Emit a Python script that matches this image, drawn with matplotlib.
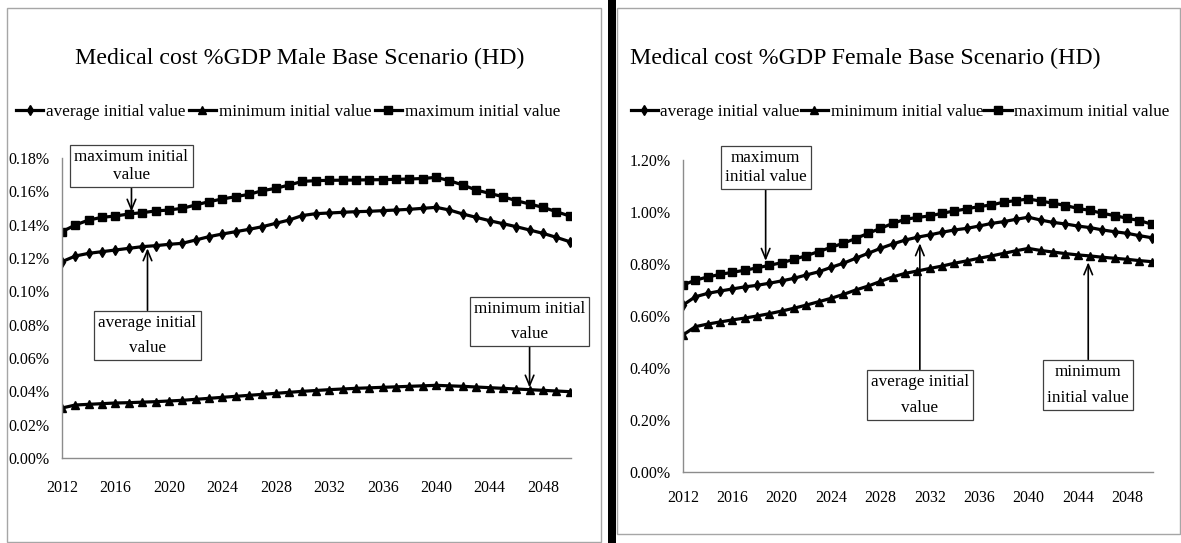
import numpy as np
import matplotlib.pyplot as plt
from matplotlib.patches import Rectangle

plt.rcParams['font.family'] = ['Liberation Serif', 'DejaVu Serif']

years = np.arange(2012, 2051)
year_ticks = np.arange(2012, 2049, 4)

# --- Male (values in % of GDP) ---
male_avg = [0.1178, 0.1212, 0.1228, 0.1238, 0.1248, 0.1258, 0.1268, 0.1274, 0.1282, 0.1288,
            0.1308, 0.1328, 0.1344, 0.1358, 0.1372, 0.1388, 0.1408, 0.1428, 0.1455, 0.1466,
            0.1470, 0.1474, 0.1478, 0.1480, 0.1484, 0.1488, 0.1492, 0.1498, 0.1504, 0.1488,
            0.1464, 0.1444, 0.1424, 0.1406, 0.1388, 0.1368, 0.1348, 0.1324, 0.1298]
male_min = [0.0300, 0.0318, 0.0322, 0.0326, 0.0330, 0.0332, 0.0335, 0.0338, 0.0342, 0.0346,
            0.0352, 0.0358, 0.0364, 0.0370, 0.0376, 0.0382, 0.0388, 0.0394, 0.0400, 0.0405,
            0.0410, 0.0414, 0.0418, 0.0421, 0.0424, 0.0427, 0.0430, 0.0433, 0.0436, 0.0433,
            0.0430, 0.0426, 0.0422, 0.0418, 0.0414, 0.0410, 0.0406, 0.0402, 0.0398]
male_max = [0.1358, 0.1398, 0.1428, 0.1444, 0.1452, 0.1464, 0.1472, 0.1482, 0.1488, 0.1498,
            0.1518, 0.1538, 0.1554, 0.1568, 0.1582, 0.1604, 0.1618, 0.1638, 0.1660, 0.1664,
            0.1666, 0.1667, 0.1668, 0.1669, 0.1670, 0.1672, 0.1674, 0.1677, 0.1684, 0.1664,
            0.1638, 0.1608, 0.1588, 0.1568, 0.1544, 0.1524, 0.1504, 0.1478, 0.1452]

# --- Female (values in % of GDP) ---
female_avg = [0.642, 0.674, 0.687, 0.696, 0.704, 0.712, 0.718, 0.726, 0.735, 0.745,
              0.758, 0.770, 0.787, 0.803, 0.822, 0.841, 0.860, 0.877, 0.892, 0.903,
              0.912, 0.922, 0.931, 0.937, 0.946, 0.956, 0.963, 0.972, 0.980, 0.969,
              0.960, 0.954, 0.946, 0.940, 0.931, 0.924, 0.918, 0.909, 0.901]
female_min = [0.527, 0.559, 0.569, 0.577, 0.585, 0.592, 0.600, 0.609, 0.619, 0.630,
              0.642, 0.655, 0.668, 0.683, 0.700, 0.715, 0.733, 0.750, 0.764, 0.773,
              0.783, 0.792, 0.803, 0.812, 0.822, 0.831, 0.841, 0.851, 0.860, 0.852,
              0.846, 0.840, 0.835, 0.831, 0.826, 0.822, 0.818, 0.813, 0.809]
female_max = [0.719, 0.738, 0.750, 0.760, 0.768, 0.776, 0.785, 0.795, 0.805, 0.818,
              0.832, 0.848, 0.864, 0.880, 0.898, 0.918, 0.937, 0.956, 0.972, 0.979,
              0.985, 0.995, 1.004, 1.012, 1.021, 1.027, 1.038, 1.044, 1.050, 1.042,
              1.034, 1.025, 1.014, 1.006, 0.995, 0.986, 0.976, 0.967, 0.953]

labels = ['average initial value', 'minimum initial value', 'maximum initial value']

W, H = 1181, 543
fig = plt.figure(figsize=(W / 100, H / 100), dpi=100)


def fx(px):
    return px / W


def fy(py):
    return 1 - py / H


# panel frames and divider bar
fig.add_artist(Rectangle((fx(7), fy(542)), fx(601) - fx(7), fy(8) - fy(542),
                         transform=fig.transFigure, fill=False, ec='#a6a6a6', lw=1))
fig.add_artist(Rectangle((fx(617), fy(534)), fx(1180) - fx(617), fy(8) - fy(534),
                         transform=fig.transFigure, fill=False, ec='#a6a6a6', lw=1))
fig.add_artist(Rectangle((fx(608), 0), fx(616) - fx(608), 1,
                         transform=fig.transFigure, fc='black', ec='none'))


def make_panel(rect, avg, mn, mx, ymax, ystep, title, title_x, legend_x, colspace, xpad):
    ax = fig.add_axes(rect)
    ax.plot(years, avg, color='black', lw=2.3, marker='d', ms=5.5, label=labels[0])
    ax.plot(years, mn, color='black', lw=2.3, marker='^', ms=6, label=labels[1])
    ax.plot(years, mx, color='black', lw=2.3, marker='s', ms=6, label=labels[2])
    ax.set_xlim(2012, 2050.1)
    ax.set_ylim(0, ymax)
    ax.set_xticks(year_ticks)
    ax.set_yticks(np.arange(0, ymax + ystep / 2, ystep))
    ax.yaxis.set_major_formatter(plt.FuncFormatter(lambda v, p: f'{v:.2f}%'))
    for s in ['top', 'right']:
        ax.spines[s].set_visible(False)
    for s in ['left', 'bottom']:
        ax.spines[s].set_color('#8c8c8c')
        ax.spines[s].set_linewidth(1)
    ax.tick_params(axis='y', length=0, pad=9, labelsize=11.5)
    ax.tick_params(axis='x', length=0, pad=xpad, labelsize=11.5)
    ax.patch.set_alpha(0)
    fig.text(fx(title_x), fy(58), title, ha='center', va='center', fontsize=17.2)
    ax.legend(loc='center', bbox_to_anchor=(fx(legend_x), fy(112)), bbox_transform=fig.transFigure,
              ncol=3, frameon=False, fontsize=12.3, handlelength=1.6, handletextpad=0.15,
              columnspacing=colspace, borderaxespad=0)
    return ax


def note(ax, text, year, series, box_y, tip_off, spacing):
    tip_y = np.interp(year, years, series) + tip_off
    ax.annotate(text, xy=(year, tip_y), xytext=(year, box_y), textcoords='data',
                ha='center', va='center', fontsize=12.3, linespacing=spacing,
                bbox=dict(boxstyle='square,pad=0.25', fc='white', ec='#404040', lw=0.9),
                arrowprops=dict(arrowstyle='->,head_length=0.6,head_width=0.25',
                                color='black', lw=1.2, shrinkA=0, shrinkB=0))


# left: male
axL = make_panel([fx(62), fy(458), fx(571) - fx(62), fy(158) - fy(458)],
                 male_avg, male_min, male_max, 0.18, 0.02,
                 'Medical cost %GDP Male Base Scenario (HD)', 300, 288, 0.2, 16)
note(axL, 'maximum initial\nvalue', 2017.2, male_max, 0.1752, 0.0012, 1.2)
note(axL, 'average initial\nvalue', 2018.4, male_avg, 0.0735, -0.0012, 1.75)
note(axL, 'minimum initial\nvalue', 2047.0, male_min, 0.0819, 0.0012, 1.75)

# right: female
axR = make_panel([fx(683), fy(472), fx(1153) - fx(683), fy(160) - fy(472)],
                 female_avg, female_min, female_max, 1.2, 0.2,
                 'Medical cost %GDP Female Base Scenario (HD)', 865, 900, 0.05, 13)
note(axR, 'maximum\ninitial value', 2018.7, female_max, 1.171, 0.02, 1.25)
note(axR, 'average initial\nvalue', 2031.2, female_avg, 0.296, -0.025, 1.8)
note(axR, 'minimum\ninitial value', 2044.85, female_min, 0.335, -0.025, 1.8)

fig.savefig('out.png', dpi=100)
